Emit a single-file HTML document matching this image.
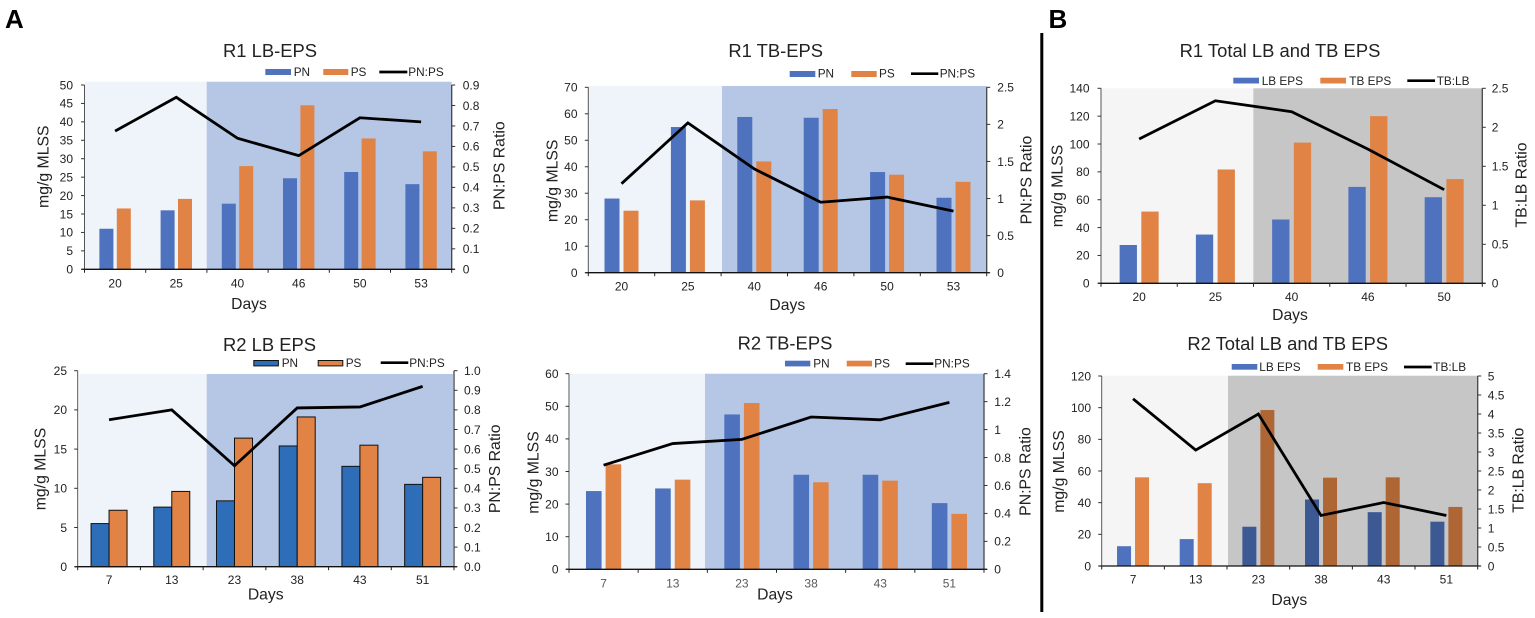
<!DOCTYPE html>
<html lang="en">
<head>
<meta charset="utf-8">
<title>EPS composition charts</title>
<style>
html,body{margin:0;padding:0;background:#fff;width:1535px;height:618px;overflow:hidden}
svg{display:block;font-family:"Liberation Sans",Arial,sans-serif;fill:#222;filter:blur(0.35px)}
.panel{font-size:26px;font-weight:bold;fill:#000}
.title{font-size:18.4px;text-anchor:middle}
.leg{font-size:11.8px}
.axt{font-size:15.8px;text-anchor:middle}
.days{font-size:15.7px;text-anchor:middle}
.tick{font-size:12px}
.lb{fill:#4e72be}.or{fill:#e08344}
</style>
</head>
<body>
<svg id="fig" xmlns="http://www.w3.org/2000/svg" width="1535" height="618" viewBox="0 0 1535 618">
<text class="panel" x="5" y="28">A</text>
<text class="panel" x="1048.5" y="28">B</text>
<rect x="1040.3" y="33" width="3" height="579" fill="#000"/>

<!-- Chart 1 -->
<g id="c1"></g>
<g>
<text class="title" x="270" y="57">R1 LB-EPS</text>
<rect class="lb" x="265.3" y="69" width="25.7" height="6"/>
<text class="leg" x="293.7" y="76">PN</text>
<rect class="or" x="323.3" y="69" width="25" height="6"/>
<text class="leg" x="350.7" y="76">PS</text>
<line x1="379.3" x2="407.3" y1="72" y2="72" stroke="#000" stroke-width="2.7"/>
<text class="leg" x="408.3" y="76">PN:PS</text>
<text class="days" x="249" y="309">Days</text>
<text class="axt" transform="translate(48.5 166.7) rotate(-90)">mg/g MLSS</text>
<text class="axt" transform="translate(504.5 165.7) rotate(-90)">PN:PS Ratio</text>
</g>

<!-- Chart 2 -->
<g id="c2"></g>
<g>
<text class="title" x="775.7" y="57">R1 TB-EPS</text>
<rect class="lb" x="789.7" y="71" width="25.6" height="6"/>
<text class="leg" x="817.7" y="77.5">PN</text>
<rect class="or" x="851.3" y="71" width="25.4" height="6"/>
<text class="leg" x="879" y="77.5">PS</text>
<line x1="911" x2="938.3" y1="73.7" y2="73.7" stroke="#000" stroke-width="2.7"/>
<text class="leg" x="939.7" y="77.5">PN:PS</text>
<text class="days" x="787.3" y="310">Days</text>
<text class="axt" transform="translate(557.7 180.8) rotate(-90)">mg/g MLSS</text>
<text class="axt" transform="translate(1031.7 180) rotate(-90)">PN:PS Ratio</text>
</g>

<!-- Chart 3 -->
<g id="c3"></g>
<g>
<text class="title" x="1280" y="57">R1 Total LB and TB EPS</text>
<rect class="lb" x="1233.3" y="77.7" width="25.7" height="5.8"/>
<text class="leg" x="1261.7" y="85">LB EPS</text>
<rect class="or" x="1320.3" y="77.7" width="25.7" height="5.8"/>
<text class="leg" x="1349.3" y="85">TB EPS</text>
<line x1="1407.3" x2="1435" y1="80.7" y2="80.7" stroke="#000" stroke-width="2.7"/>
<text class="leg" x="1436.7" y="85">TB:LB</text>
<text class="days" x="1290" y="320">Days</text>
<text class="axt" transform="translate(1062.3 186) rotate(-90)">mg/g MLSS</text>
<text class="axt" transform="translate(1526.7 185) rotate(-90)">TB:LB Ratio</text>
</g>

<!-- Chart 4 -->
<g id="c4"></g>
<g>
<text class="title" x="269.5" y="351">R2 LB EPS</text>
<rect x="253.8" y="360.5" width="24.6" height="5.4" fill="#2e6db8" stroke="#111" stroke-width="1"/>
<text class="leg" x="281.7" y="367">PN</text>
<rect x="318.2" y="360.5" width="24.6" height="5.4" fill="#e08344" stroke="#111" stroke-width="1"/>
<text class="leg" x="345.7" y="367">PS</text>
<line x1="380.7" x2="408.3" y1="362.7" y2="362.7" stroke="#000" stroke-width="2.7"/>
<text class="leg" x="409.3" y="367">PN:PS</text>
<text class="days" x="265.7" y="599.3">Days</text>
<text class="axt" transform="translate(45.7 469) rotate(-90)">mg/g MLSS</text>
<text class="axt" transform="translate(500 468.8) rotate(-90)">PN:PS Ratio</text>
</g>

<!-- Chart 5 -->
<g id="c5"></g>
<g>
<text class="title" x="785" y="349.5">R2 TB-EPS</text>
<rect class="lb" x="785" y="360.7" width="25.3" height="5.7"/>
<text class="leg" x="813.3" y="367.5">PN</text>
<rect class="or" x="846.7" y="360.7" width="25.3" height="5.7"/>
<text class="leg" x="874.3" y="367.5">PS</text>
<line x1="905.7" x2="933.3" y1="363.7" y2="363.7" stroke="#000" stroke-width="2.7"/>
<text class="leg" x="934.3" y="367.5">PN:PS</text>
<text class="days" x="775" y="599.3">Days</text>
<text class="axt" transform="translate(538.3 472.5) rotate(-90)">mg/g MLSS</text>
<text class="axt" transform="translate(1030.7 471.5) rotate(-90)">PN:PS Ratio</text>
</g>

<!-- Chart 6 -->
<g id="c6"></g>
<g>
<text class="title" x="1287.7" y="350">R2 Total LB and TB EPS</text>
<rect class="lb" x="1231.7" y="364" width="25.6" height="5.7"/>
<text class="leg" x="1259.3" y="371">LB EPS</text>
<rect class="or" x="1317.7" y="364" width="25.6" height="5.7"/>
<text class="leg" x="1346" y="371">TB EPS</text>
<line x1="1404" x2="1431.7" y1="367" y2="367" stroke="#000" stroke-width="2.7"/>
<text class="leg" x="1433.3" y="371">TB:LB</text>
<text class="days" x="1289.3" y="605">Days</text>
<text class="axt" transform="translate(1064 471.5) rotate(-90)">mg/g MLSS</text>
<text class="axt" transform="translate(1523.3 470.3) rotate(-90)">TB:LB Ratio</text>
</g>
</svg>

<script>
/* ---------- data: R1 LB-EPS ---------- */
const r1LbDays = ["20","25","40","46","50","53"];
const r1LbPN = [11, 16, 17.8, 24.7, 26.4, 23.1];
const r1LbPS = [16.5, 19.1, 28, 44.5, 35.5, 32];
const r1LbRatio = [0.675, 0.84, 0.64, 0.555, 0.74, 0.72];
const r1LbLeftTicks = ["0","5","10","15","20","25","30","35","40","45","50"];
const r1LbRightTicks = ["0","0.1","0.2","0.3","0.4","0.5","0.6","0.7","0.8","0.9"];

/* ---------- data: R1 TB-EPS ---------- */
const r1TbDays = ["20","25","40","46","50","53"];
const r1TbPN = [28, 55, 58.8, 58.5, 38, 28.3];
const r1TbPS = [23.4, 27.3, 42, 61.8, 37, 34.3];
const r1TbRatio = [1.2, 2.02, 1.4, 0.95, 1.02, 0.83];
const r1TbLeftTicks = ["0","10","20","30","40","50","60","70"];
const r1TbRightTicks = ["0","0.5","1","1.5","2","2.5"];

/* ---------- data: R1 Total ---------- */
const r1TotalDays = ["20","25","40","46","50"];
const r1TotalLB = [27.5, 35, 45.8, 69.2, 61.8];
const r1TotalTB = [51.5, 81.7, 101, 120, 74.8];
const r1TotalRatio = [1.85, 2.34, 2.2, 1.72, 1.2];
const r1TotalLeftTicks = ["0","20","40","60","80","100","120","140"];
const r1TotalRightTicks = ["0","0.5","1","1.5","2","2.5"];

/* ---------- data: R2 LB EPS ---------- */
const r2LbDays = ["7","13","23","38","43","51"];
const r2LbPN = [5.5, 7.6, 8.4, 15.4, 12.8, 10.5];
const r2LbPS = [7.2, 9.6, 16.4, 19.1, 15.5, 11.4];
const r2LbRatio = [0.75, 0.8, 0.515, 0.81, 0.815, 0.92];
const r2LbLeftTicks = ["0","5","10","15","20","25"];
const r2LbRightTicks = ["0.0","0.1","0.2","0.3","0.4","0.5","0.6","0.7","0.8","0.9","1.0"];

/* ---------- data: R2 TB-EPS ---------- */
const r2TbDays = ["7","13","23","38","43","51"];
const r2TbPN = [24, 24.8, 47.5, 29, 29, 20.3];
const r2TbPS = [32.2, 27.5, 51, 26.7, 27.2, 17];
const r2TbRatio = [0.745, 0.9, 0.93, 1.09, 1.07, 1.195];
const r2TbLeftTicks = ["0","10","20","30","40","50","60"];
const r2TbRightTicks = ["0","0.2","0.4","0.6","0.8","1","1.2","1.4"];

/* ---------- data: R2 Total ---------- */
const r2TotalDays = ["7","13","23","38","43","51"];
const r2TotalLB = [12.5, 17, 24.8, 42, 34, 28];
const r2TotalTB = [56, 52.3, 98.5, 55.8, 56, 37.3];
const r2TotalRatio = [4.4, 3.05, 4, 1.33, 1.67, 1.33];
const r2TotalLeftTicks = ["0","20","40","60","80","100","120"];
const r2TotalRightTicks = ["0","0.5","1","1.5","2","2.5","3","3.5","4","4.5","5"];

/* ---------- layout (geometry only) ---------- */
const blueShades = {light:"#eff3fa", dark:"#b6c7e6"};
const greyShades = {light:"#f5f5f5", dark:"#c6c6c6"};
const charts = [
 {id:"c1", days:r1LbDays, a:r1LbPN, b:r1LbPS, ratio:r1LbRatio, lt:r1LbLeftTicks, rt:r1LbRightTicks,
  x0:84.5, x1:451.7, top:85, bot:269.3, shTop:81.7, shX0:85, shX1:451.7, split:206.7, w:14, gap:3.4, shade:blueShades,
  ltX:73, rtX:462.7, catY:287.3, colA:"#4e72be", colB:"#e08344"},
 {id:"c2", days:r1TbDays, a:r1TbPN, b:r1TbPS, ratio:r1TbRatio, lt:r1TbLeftTicks, rt:r1TbRightTicks,
  x0:588.3, x1:986.7, top:87.3, bot:272.7, shTop:86, shX0:589, shX1:986.7, split:722, w:15, gap:4, shade:blueShades,
  ltX:577.5, rtX:997.3, catY:290.7, colA:"#4e72be", colB:"#e08344"},
 {id:"c3", days:r1TotalDays, a:r1TotalLB, b:r1TotalTB, ratio:r1TotalRatio, lt:r1TotalLeftTicks, rt:r1TotalRightTicks,
  x0:1101, x1:1482.3, top:88.3, bot:283.3, shTop:88.3, shX0:1101.5, shX1:1482.3, split:1253.3, w:17.3, gap:4.4, shade:greyShades,
  ltX:1089.5, rtX:1491.7, catY:301, colA:"#4e72be", colB:"#e08344"},
 {id:"c4", days:r2LbDays, a:r2LbPN, b:r2LbPS, ratio:r2LbRatio, lt:r2LbLeftTicks, rt:r2LbRightTicks,
  x0:77.7, x1:454, top:370.7, bot:566.7, shTop:374, shX0:79.3, shX1:453, split:206.7, w:18, gap:0, shade:blueShades,
  ltX:67, rtX:464, catY:584, colA:"#2e6db8", colB:"#e08344", outline:true},
 {id:"c5", days:r2TbDays, a:r2TbPN, b:r2TbPS, ratio:r2TbRatio, lt:r2TbLeftTicks, rt:r2TbRightTicks,
  x0:569, x1:984, top:373.7, bot:569.3, shTop:373.7, shX0:570, shX1:984, split:705, w:15.6, gap:4, shade:blueShades,
  ltX:558.5, rtX:994.3, catY:587.3, colA:"#4e72be", colB:"#e08344", catFill:"#595959"},
 {id:"c6", days:r2TotalDays, a:r2TotalLB, b:r2TotalTB, ratio:r2TotalRatio, lt:r2TotalLeftTicks, rt:r2TotalRightTicks,
  x0:1101.7, x1:1477.7, top:376, bot:566, shTop:375.7, shX0:1102.5, shX1:1477.7, split:1228, w:14, gap:4, shade:greyShades,
  ltX:1091, rtX:1487.7, catY:583.3, colA:"#4e72be", colB:"#e08344", overlay:true}
];

const NS = "http://www.w3.org/2000/svg";
function make(parent, tag, props, txt){
  const n = document.createElementNS(NS, tag);
  for (const k in props) n.setAttribute(k, props[k]);
  if (txt !== undefined) n.textContent = txt;
  parent.appendChild(n);
  return n;
}

charts.forEach(function(c){
  const g = document.getElementById(c.id);
  const n = c.days.length;
  const band = (c.x1 - c.x0) / n;
  const cx = function(i){ return c.x0 + band * (i + 0.5); };
  const leftMax = Number(c.lt[c.lt.length - 1]);
  const rightMax = Number(c.rt[c.rt.length - 1]);
  const yL = function(v){ return c.bot - (v / leftMax) * (c.bot - c.top); };
  const yR = function(v){ return c.bot - (v / rightMax) * (c.bot - c.top); };

  /* background bands */
  const bgL = make(g, "rect", {x:c.shX0, y:c.shTop, width:c.split - c.shX0, height:c.bot - c.shTop, fill:c.shade.light});
  
  
  if (!c.overlay) {
    const bgD = make(g, "rect", {x:c.split, y:c.shTop, width:c.shX1 - c.split, height:c.bot - c.shTop, fill:c.shade.dark});
    
    
  }

  /* bars */
  const stroke = c.outline ? {stroke:"#111", "stroke-width":1} : {};
  for (let i = 0; i < n; i++) {
    const pa = Object.assign({x:cx(i) - c.gap/2 - c.w, y:yL(c.a[i]), width:c.w, height:c.bot - yL(c.a[i]), fill:c.colA}, stroke);
    const barA = make(g, "rect", pa);
    
    
    const pb = Object.assign({x:cx(i) + c.gap/2, y:yL(c.b[i]), width:c.w, height:c.bot - yL(c.b[i]), fill:c.colB}, stroke);
    const barB = make(g, "rect", pb);
    
    
  }

  /* translucent band drawn over bars (darkens them) */
  if (c.overlay) {
    const ov = make(g, "rect", {x:c.split, y:c.shTop, width:c.shX1 - c.split, height:c.bot - c.shTop, fill:c.shade.dark, style:"mix-blend-mode:multiply"});
    
    
  }

  /* axes */
  const axL = make(g, "line", {x1:c.x0, x2:c.x0, y1:c.top, y2:c.bot, stroke:"#555", "stroke-width":1});
  
  
  const axR = make(g, "line", {x1:c.x1, x2:c.x1, y1:c.top, y2:c.bot, stroke:"#444", "stroke-width":1.3});
  
  
  const axB = make(g, "line", {x1:c.x0 - 3, x2:c.x1 + 3, y1:c.bot, y2:c.bot, stroke:"#111", "stroke-width":1.3});
  
  

  /* left ticks */
  c.lt.forEach(function(lab){
    const y = yL(Number(lab));
    const tm = make(g, "line", {x1:c.x0 - 3.5, x2:c.x0, y1:y, y2:y, stroke:"#333", "stroke-width":1});
    
    
    const tl = make(g, "text", {"class":"tick", x:c.ltX, y:y + 4.3, "text-anchor":"end"}, lab);
    
    
  });

  /* right ticks */
  c.rt.forEach(function(lab){
    const y = yR(Number(lab));
    const tm = make(g, "line", {x1:c.x1, x2:c.x1 + 3.5, y1:y, y2:y, stroke:"#333", "stroke-width":1});
    
    
    const tl = make(g, "text", {"class":"tick", x:c.rtX, y:y + 4.3}, lab);
    
    
  });

  /* category ticks + labels */
  for (let i = 0; i <= n; i++) {
    const x = c.x0 + band * i;
    const tm = make(g, "line", {x1:x, x2:x, y1:c.bot, y2:c.bot + 3.5, stroke:"#222", "stroke-width":1});
    
    
  }
  c.days.forEach(function(d, i){
    const tl = make(g, "text", {"class":"tick", x:cx(i), y:c.catY, "text-anchor":"middle", fill:c.catFill || "#222"}, d);
    
    
  });

  /* ratio line */
  const pts = c.ratio.map(function(v, i){ return cx(i).toFixed(2) + "," + yR(v).toFixed(2); }).join(" ");
  const line = make(g, "polyline", {points:pts, fill:"none", stroke:"#000", "stroke-width":2.8, "stroke-linejoin":"miter"});
  
  
});
</script>
</body>
</html>
